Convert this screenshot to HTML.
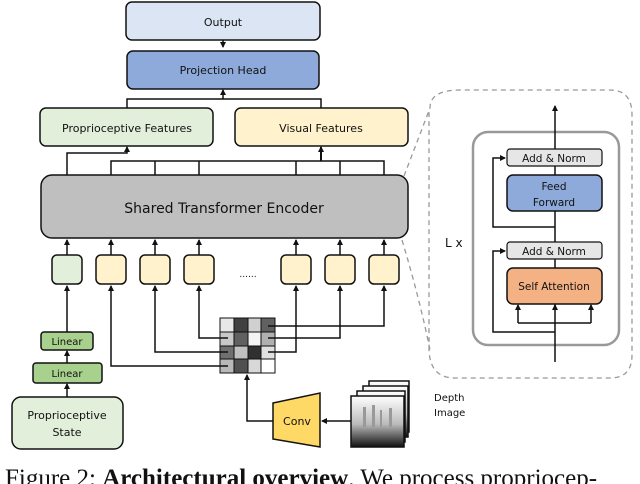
<!DOCTYPE html>
<html><head><meta charset="utf-8"><style>
html,body{margin:0;padding:0;background:#fff;width:640px;height:484px;overflow:hidden}
text{font-family:"DejaVu Sans","Liberation Sans",sans-serif;fill:#111}
</style></head><body>
<svg width="640" height="484" viewBox="0 0 640 484" xmlns="http://www.w3.org/2000/svg">
<defs>
<marker id="a" markerWidth="6" markerHeight="6" refX="5" refY="3" orient="auto" markerUnits="userSpaceOnUse"><path d="M0,0 L6,3 L0,6z" fill="#111"/></marker>
<linearGradient id="dg" x1="0" y1="0" x2="0" y2="1"><stop offset="0" stop-color="#fff"/><stop offset="0.55" stop-color="#bbb"/><stop offset="1" stop-color="#111"/></linearGradient>
</defs>
<g stroke="#111" stroke-width="1.5" fill="none">
<path d="M404,176 L430,108 Q430,90 460,90 L610,90 Q632,90 632,115 L632,355 Q632,378 610,378 L455,378 Q430,378 429,350 L429,110" stroke="#999" stroke-dasharray="5,4" stroke-width="1.3"/>
<path d="M402,240 Q420,300 430,350" stroke="#999" stroke-dasharray="5,4" stroke-width="1.3"/>
</g>
<rect x="126" y="2" width="194" height="38" rx="6" fill="#dce5f4" stroke="#111" stroke-width="1.5"/>
<text x="223" y="26" font-size="11" text-anchor="middle">Output</text>
<rect x="127" y="51" width="192" height="38" rx="6" fill="#8eaadb" stroke="#111" stroke-width="1.5"/>
<text x="223" y="74" font-size="11" text-anchor="middle">Projection Head</text>
<rect x="40" y="108" width="173" height="38" rx="6" fill="#e2efda" stroke="#111" stroke-width="1.5"/>
<text x="127" y="132" font-size="11" text-anchor="middle">Proprioceptive Features</text>
<rect x="235" y="108" width="173" height="38" rx="6" fill="#fff2cc" stroke="#111" stroke-width="1.5"/>
<text x="321" y="132" font-size="11" text-anchor="middle">Visual Features</text>
<g stroke="#111" stroke-width="1.5" fill="none">
<line x1="223" y1="40" x2="223" y2="47" marker-end="url(#a)"/>
<path d="M127,108 V99 H321 V108"/>
<line x1="223" y1="99" x2="223" y2="90" marker-end="url(#a)"/>
<path d="M67,175 V153 H127 V147" marker-end="url(#a)"/>
<path d="M111,175 V161 H384 V175 M155,161 V175 M199,161 V175 M296,161 V175 M340,161 V175"/>
<line x1="321" y1="161" x2="321" y2="147" marker-end="url(#a)" stroke-width="2"/>
</g>
<rect x="41" y="175" width="367" height="63" rx="11" fill="#bfbfbf" stroke="#111" stroke-width="1.5"/>
<text x="224" y="213" font-size="14" text-anchor="middle">Shared Transformer Encoder</text>
<g stroke="#111" stroke-width="1.5">
<rect x="52" y="255" width="30" height="29" rx="5" fill="#e2efda"/>
<rect x="96" y="255" width="30" height="29" rx="5" fill="#fff2cc"/>
<rect x="140" y="255" width="30" height="29" rx="5" fill="#fff2cc"/>
<rect x="184" y="255" width="30" height="29" rx="5" fill="#fff2cc"/>
<rect x="281" y="255" width="30" height="29" rx="5" fill="#fff2cc"/>
<rect x="325" y="255" width="30" height="29" rx="5" fill="#fff2cc"/>
<rect x="369" y="255" width="30" height="29" rx="5" fill="#fff2cc"/>
</g>
<text x="248" y="277" font-size="9" text-anchor="middle">......</text>
<g stroke="#111" stroke-width="1.5" fill="none">
<line x1="67" y1="255" x2="67" y2="240" marker-end="url(#a)"/><line x1="111" y1="255" x2="111" y2="240" marker-end="url(#a)"/>
<line x1="155" y1="255" x2="155" y2="240" marker-end="url(#a)"/><line x1="199" y1="255" x2="199" y2="240" marker-end="url(#a)"/>
<line x1="296" y1="255" x2="296" y2="240" marker-end="url(#a)"/><line x1="340" y1="255" x2="340" y2="240" marker-end="url(#a)"/>
<line x1="384" y1="255" x2="384" y2="240" marker-end="url(#a)"/>
<line x1="67" y1="332" x2="67" y2="286" marker-end="url(#a)"/>
<line x1="67" y1="363" x2="67" y2="351" marker-end="url(#a)"/>
<line x1="67" y1="397" x2="67" y2="384" marker-end="url(#a)"/>
</g>
<g stroke="#111" stroke-width="1">
<rect x="220" y="318" width="14" height="14" fill="#e8e8e8"/><rect x="234" y="318" width="14" height="14" fill="#404040"/><rect x="248" y="318" width="13" height="14" fill="#d0d0d0"/><rect x="261" y="318" width="14" height="14" fill="#606060"/>
<rect x="220" y="332" width="14" height="14" fill="#c8c8c8"/><rect x="234" y="332" width="14" height="14" fill="#606060"/><rect x="248" y="332" width="13" height="14" fill="#f4f4f4"/><rect x="261" y="332" width="14" height="14" fill="#b0b0b0"/>
<rect x="220" y="346" width="14" height="13" fill="#707070"/><rect x="234" y="346" width="14" height="13" fill="#c0c0c0"/><rect x="248" y="346" width="13" height="13" fill="#303030"/><rect x="261" y="346" width="14" height="13" fill="#e0e0e0"/>
<rect x="220" y="359" width="14" height="14" fill="#b8b8b8"/><rect x="234" y="359" width="14" height="14" fill="#505050"/><rect x="248" y="359" width="13" height="14" fill="#d8d8d8"/><rect x="261" y="359" width="14" height="14" fill="#fff"/>
</g>
<g stroke="#111" stroke-width="1.5" fill="none">
<path d="M228,366 H111 V286" marker-end="url(#a)"/>
<path d="M228,352 H155 V286" marker-end="url(#a)"/>
<path d="M228,338 H199 V286" marker-end="url(#a)"/>
<path d="M268,326 H384 V286" marker-end="url(#a)"/>
<path d="M268,338 H340 V286" marker-end="url(#a)"/>
<path d="M268,352 H296 V286" marker-end="url(#a)"/>
<path d="M273,421 H247 V375" marker-end="url(#a)"/>
<line x1="351" y1="421" x2="322" y2="421" marker-end="url(#a)"/>
</g>
<polygon points="273,403 320,393 320,447 273,439" fill="#ffd966" stroke="#111" stroke-width="1.5"/>
<text x="297" y="425" font-size="11" text-anchor="middle">Conv</text>
<g stroke="#111" stroke-width="1.5">
<rect x="369" y="381" width="40" height="51" fill="url(#dg)"/>
<rect x="363" y="386" width="45" height="51" fill="url(#dg)"/>
<rect x="357" y="391" width="48" height="51" fill="url(#dg)"/>
<rect x="351" y="396" width="53" height="51" fill="url(#dg)"/>
</g>
<g fill="#999"><rect x="363" y="407" width="3" height="20"/><rect x="372" y="405" width="3" height="22"/><rect x="380" y="410" width="2" height="17"/><rect x="389" y="408" width="3" height="19"/></g>
<text x="434" y="401" font-size="10">Depth</text>
<text x="434" y="416" font-size="10">Image</text>
<rect x="41" y="332" width="52" height="18" rx="3" fill="#a9d18e" stroke="#111" stroke-width="1.5"/>
<text x="67" y="345" font-size="10" text-anchor="middle">Linear</text>
<rect x="33" y="363" width="69" height="20" rx="3" fill="#a9d18e" stroke="#111" stroke-width="1.5"/>
<text x="67" y="377" font-size="10" text-anchor="middle">Linear</text>
<rect x="12" y="397" width="111" height="52" rx="9" fill="#e2efda" stroke="#111" stroke-width="1.5"/>
<text x="67" y="419" font-size="11" text-anchor="middle">Proprioceptive</text>
<text x="67" y="436" font-size="11" text-anchor="middle">State</text>
<text x="445" y="247" font-size="12">L x</text>
<rect x="473" y="132" width="146" height="213" rx="15" fill="none" stroke="#999" stroke-width="2.5"/>
<g stroke="#111" stroke-width="1.5" fill="none">
<line x1="555" y1="362" x2="555" y2="106" marker-end="url(#a)"/>
<path d="M555,332 H493 V251 H505" marker-end="url(#a)"/>
<path d="M555,227 H493 V158 H505" marker-end="url(#a)"/>
<path d="M518,323 H591 M518,323 V306 M591,323 V306" />
<line x1="518" y1="310" x2="518" y2="305" marker-end="url(#a)"/>
<line x1="591" y1="310" x2="591" y2="305" marker-end="url(#a)"/>
<line x1="555" y1="310" x2="555" y2="305" marker-end="url(#a)"/>
</g>
<rect x="507" y="149" width="95" height="17" rx="3" fill="#e7e6e6" stroke="#111" stroke-width="1.2"/>
<text x="554" y="162" font-size="10.5" text-anchor="middle">Add &amp; Norm</text>
<rect x="507" y="175" width="95" height="36" rx="6" fill="#8eaadb" stroke="#111" stroke-width="1.5"/>
<text x="554" y="190" font-size="10.5" text-anchor="middle">Feed</text>
<text x="554" y="206" font-size="10.5" text-anchor="middle">Forward</text>
<rect x="507" y="242" width="95" height="17" rx="3" fill="#e7e6e6" stroke="#111" stroke-width="1.2"/>
<text x="554" y="255" font-size="10.5" text-anchor="middle">Add &amp; Norm</text>
<rect x="507" y="268" width="95" height="36" rx="6" fill="#f4b183" stroke="#111" stroke-width="1.5"/>
<text x="554" y="290" font-size="10.5" text-anchor="middle">Self Attention</text>
<text x="5" y="486" font-size="25" style="font-family:'Liberation Serif',serif">Figure 2: <tspan font-weight="bold">Architectural overview</tspan>. We process propriocep-</text>
</svg>
</body></html>
